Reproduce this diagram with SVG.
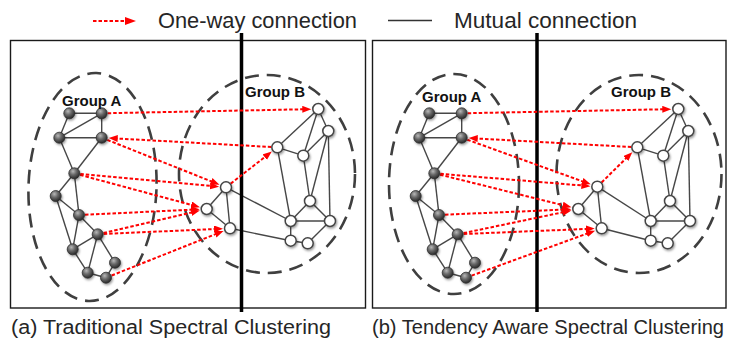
<svg xmlns="http://www.w3.org/2000/svg" width="729" height="339" viewBox="0 0 729 339">
  <style>
    .frame { fill: none; stroke: #1a1a1a; stroke-width: 1.4; }
    .divider { stroke: #000; stroke-width: 3.5; }
    .group { fill: none; stroke: #3f3f3f; stroke-width: 2.6; stroke-dasharray: 14 8; }
    .edge { stroke: #474747; stroke-width: 1.4; fill: none; }
    .oneway { stroke: #ff0000; stroke-width: 2; stroke-dasharray: 3.5 2; fill: none; marker-end: url(#head); }
    .dark { fill: url(#sphere); stroke: #2e2e2e; stroke-width: 0.8; filter: url(#shadow); }
    .light { fill: #fff; stroke: #444; stroke-width: 1.5; filter: url(#shadow); }
    .glabel { font-family: "Liberation Sans", Arial, sans-serif; font-weight: bold; font-size: 15px; fill: #111; }
    .legend { font-family: "Liberation Sans", Arial, sans-serif; font-size: 21.5px; fill: #262626; }
    .caption { font-family: "Liberation Sans", Arial, sans-serif; font-size: 20px; fill: #262626; }
  </style>
  <defs>
    <radialGradient id="sphere" cx="38%" cy="32%" r="70%">
      <stop offset="0" stop-color="#b8b8b8"/>
      <stop offset="0.45" stop-color="#6a6a6a"/>
      <stop offset="1" stop-color="#262626"/>
    </radialGradient>
    <filter id="shadow" x="-60%" y="-60%" width="220%" height="220%">
      <feDropShadow dx="1" dy="1.5" stdDeviation="1.2" flood-color="#000" flood-opacity="0.4"/>
    </filter>
    <marker id="head" markerUnits="userSpaceOnUse" markerWidth="10" markerHeight="8" refX="1" refY="3.5" orient="auto">
      <path d="M0,0 L9,3.5 L0,7 z" fill="#ff0000"/>
    </marker>
    <marker id="bighead" markerUnits="userSpaceOnUse" markerWidth="12" markerHeight="9" refX="1" refY="4" orient="auto">
      <path d="M0,0 L11,4 L0,8 z" fill="#ff0000"/>
    </marker>
  </defs>

  <!-- legend -->
  <g id="legend">
    <line x1="93" y1="21" x2="126" y2="21" stroke="#ff0000" stroke-width="2" stroke-dasharray="3.5 2" marker-end="url(#bighead)"/>
    <text class="legend" x="158" y="27.5" textLength="199" lengthAdjust="spacingAndGlyphs">One-way connection</text>
    <line x1="388" y1="20.5" x2="432" y2="20.5" stroke="#333" stroke-width="1.6"/>
    <text class="legend" x="454" y="27.5" textLength="183" lengthAdjust="spacingAndGlyphs">Mutual connection</text>
  </g>

  <!-- panel frames -->
  <rect class="frame" x="10.5" y="40.5" width="355" height="267.5"/>
  <rect class="frame" x="372.5" y="40.5" width="353.5" height="267.5"/>

  <!-- group outlines -->
  <ellipse class="group" cx="92.5" cy="187" rx="64" ry="114" transform="rotate(2 92.5 187)"/>
  <ellipse class="group" cx="267" cy="174" rx="88" ry="99"/>
  <ellipse class="group" cx="454" cy="184" rx="65" ry="110"/>
  <ellipse class="group" cx="639" cy="174" rx="82.5" ry="99"/>

  <!-- mutual connections -->
  <g id="connectors">
    <g id="mutual-a" class="edge">
      <line x1="69.3" y1="113.3" x2="101.7" y2="113.3"/>
      <line x1="69.3" y1="113.3" x2="59.3" y2="137.7"/>
      <line x1="59.3" y1="137.7" x2="101.7" y2="137.7"/>
      <line x1="59.3" y1="137.7" x2="101.7" y2="113.3"/>
      <line x1="101.7" y1="113.3" x2="101.7" y2="137.7"/>
      <line x1="59.3" y1="137.7" x2="74.3" y2="173.3"/>
      <line x1="101.7" y1="137.7" x2="74.3" y2="173.3"/>
      <line x1="74.3" y1="173.3" x2="55.7" y2="196"/>
      <line x1="74.3" y1="173.3" x2="79" y2="215"/>
      <line x1="55.7" y1="196" x2="79" y2="215"/>
      <line x1="79" y1="215" x2="97.7" y2="234.3"/>
      <line x1="55.7" y1="196" x2="72.7" y2="249.3"/>
      <line x1="79" y1="215" x2="72.7" y2="249.3"/>
      <line x1="97.7" y1="234.3" x2="72.7" y2="249.3"/>
      <line x1="97.7" y1="234.3" x2="87.7" y2="272.7"/>
      <line x1="97.7" y1="234.3" x2="115" y2="262.7"/>
      <line x1="72.7" y1="249.3" x2="87.7" y2="272.7"/>
      <line x1="87.7" y1="272.7" x2="106" y2="277.7"/>
      <line x1="115" y1="262.7" x2="106" y2="277.7"/>
      <line x1="318.3" y1="109" x2="277.3" y2="147.3"/>
      <line x1="318.3" y1="109" x2="303.3" y2="155.7"/>
      <line x1="318.3" y1="109" x2="328.3" y2="131"/>
      <line x1="328.3" y1="131" x2="303.3" y2="155.7"/>
      <line x1="277.3" y1="147.3" x2="303.3" y2="155.7"/>
      <line x1="303.3" y1="155.7" x2="310" y2="201"/>
      <line x1="328.3" y1="131" x2="310" y2="201"/>
      <line x1="328.3" y1="131" x2="330" y2="221"/>
      <line x1="277.3" y1="147.3" x2="290.7" y2="221"/>
      <line x1="310" y1="201" x2="290.7" y2="221"/>
      <line x1="310" y1="201" x2="330" y2="221"/>
      <line x1="290.7" y1="221" x2="330" y2="221"/>
      <line x1="290.7" y1="221" x2="290.7" y2="240.7"/>
      <line x1="290.7" y1="240.7" x2="307.7" y2="243.3"/>
      <line x1="307.7" y1="243.3" x2="330" y2="221"/>
      <line x1="226" y1="187.3" x2="206.7" y2="209"/>
      <line x1="226" y1="187.3" x2="230" y2="228.3"/>
      <line x1="206.7" y1="209" x2="230" y2="228.3"/>
      <line x1="226" y1="187.3" x2="290.7" y2="221"/>
      <line x1="230" y1="228.3" x2="290.7" y2="240.7"/>
    </g>
    <g id="mutual-b" class="edge">
      <line x1="429.3" y1="113.3" x2="461.7" y2="113.3"/>
      <line x1="429.3" y1="113.3" x2="419.3" y2="137.7"/>
      <line x1="419.3" y1="137.7" x2="461.7" y2="137.7"/>
      <line x1="419.3" y1="137.7" x2="461.7" y2="113.3"/>
      <line x1="461.7" y1="113.3" x2="461.7" y2="137.7"/>
      <line x1="419.3" y1="137.7" x2="434.3" y2="173.3"/>
      <line x1="461.7" y1="137.7" x2="434.3" y2="173.3"/>
      <line x1="434.3" y1="173.3" x2="415.7" y2="196"/>
      <line x1="434.3" y1="173.3" x2="439" y2="215"/>
      <line x1="415.7" y1="196" x2="439" y2="215"/>
      <line x1="439" y1="215" x2="457.7" y2="234.3"/>
      <line x1="415.7" y1="196" x2="432.7" y2="249.3"/>
      <line x1="439" y1="215" x2="432.7" y2="249.3"/>
      <line x1="457.7" y1="234.3" x2="432.7" y2="249.3"/>
      <line x1="457.7" y1="234.3" x2="447.7" y2="272.7"/>
      <line x1="457.7" y1="234.3" x2="475" y2="262.7"/>
      <line x1="432.7" y1="249.3" x2="447.7" y2="272.7"/>
      <line x1="447.7" y1="272.7" x2="466" y2="277.7"/>
      <line x1="475" y1="262.7" x2="466" y2="277.7"/>
      <line x1="678.3" y1="109" x2="637.3" y2="147.3"/>
      <line x1="678.3" y1="109" x2="663.3" y2="155.7"/>
      <line x1="678.3" y1="109" x2="688.3" y2="131"/>
      <line x1="688.3" y1="131" x2="663.3" y2="155.7"/>
      <line x1="637.3" y1="147.3" x2="663.3" y2="155.7"/>
      <line x1="663.3" y1="155.7" x2="670" y2="201"/>
      <line x1="688.3" y1="131" x2="670" y2="201"/>
      <line x1="688.3" y1="131" x2="690" y2="221"/>
      <line x1="637.3" y1="147.3" x2="650.7" y2="221"/>
      <line x1="670" y1="201" x2="650.7" y2="221"/>
      <line x1="670" y1="201" x2="690" y2="221"/>
      <line x1="650.7" y1="221" x2="690" y2="221"/>
      <line x1="650.7" y1="221" x2="650.7" y2="240.7"/>
      <line x1="650.7" y1="240.7" x2="667.7" y2="243.3"/>
      <line x1="667.7" y1="243.3" x2="690" y2="221"/>
      <line x1="597.3" y1="186.7" x2="578.3" y2="209"/>
      <line x1="597.3" y1="186.7" x2="601.7" y2="228.3"/>
      <line x1="578.3" y1="209" x2="601.7" y2="228.3"/>
      <line x1="597.3" y1="186.7" x2="650.7" y2="221"/>
      <line x1="601.7" y1="228.3" x2="650.7" y2="240.7"/>
    </g>
  </g>

  <!-- partition cuts -->
  <line class="divider" x1="241.5" y1="33" x2="241.5" y2="312"/>
  <line class="divider" x1="537" y1="33" x2="537" y2="312"/>

  <!-- one-way connections -->
  <g id="oneway-a" class="oneway">
    <line x1="107.7" y1="113.2" x2="303.3" y2="109.3"/>
    <line x1="271.3" y1="147" x2="116.7" y2="138.5"/>
    <line x1="107.3" y1="139.9" x2="212.1" y2="181.7"/>
    <line x1="80.3" y1="173.9" x2="211.1" y2="185.9"/>
    <line x1="80.1" y1="174.9" x2="192.2" y2="205.1"/>
    <line x1="85" y1="214.7" x2="191.7" y2="209.7"/>
    <line x1="103.5" y1="233" x2="192.1" y2="212.4"/>
    <line x1="103.7" y1="234" x2="215" y2="229"/>
    <line x1="111.6" y1="275.5" x2="216.1" y2="233.9"/>
    <line x1="230.7" y1="183.6" x2="265.5" y2="156.5"/>
  </g>
  <g id="oneway-b" class="oneway">
    <line x1="467.7" y1="113.2" x2="663.3" y2="109.3"/>
    <line x1="631.3" y1="147" x2="476.7" y2="138.5"/>
    <line x1="467.3" y1="139.7" x2="583.2" y2="181.6"/>
    <line x1="440.3" y1="173.8" x2="582.4" y2="185.5"/>
    <line x1="440.1" y1="174.7" x2="563.7" y2="205.4"/>
    <line x1="445" y1="214.7" x2="563.3" y2="209.6"/>
    <line x1="463.6" y1="233.1" x2="563.6" y2="212.1"/>
    <line x1="463.7" y1="234" x2="586.7" y2="228.9"/>
    <line x1="471.6" y1="275.6" x2="587.6" y2="233.4"/>
    <line x1="601.6" y1="182.5" x2="626.6" y2="157.8"/>
  </g>

  <!-- panel (a) nodes -->
  <g id="a-A1"><circle class="dark" cx="69.3" cy="113.3" r="5.5"/></g>
  <g id="a-A2"><circle class="dark" cx="101.7" cy="113.3" r="5.5"/></g>
  <g id="a-A3"><circle class="dark" cx="59.3" cy="137.7" r="5.5"/></g>
  <g id="a-A4"><circle class="dark" cx="101.7" cy="137.7" r="5.5"/></g>
  <g id="a-A5"><circle class="dark" cx="74.3" cy="173.3" r="5.5"/></g>
  <g id="a-A6"><circle class="dark" cx="55.7" cy="196" r="5.5"/></g>
  <g id="a-A7"><circle class="dark" cx="79" cy="215" r="5.5"/></g>
  <g id="a-A8"><circle class="dark" cx="97.7" cy="234.3" r="5.5"/></g>
  <g id="a-A9"><circle class="dark" cx="72.7" cy="249.3" r="5.5"/></g>
  <g id="a-A10"><circle class="dark" cx="115" cy="262.7" r="5.5"/></g>
  <g id="a-A11"><circle class="dark" cx="87.7" cy="272.7" r="5.5"/></g>
  <g id="a-A12"><circle class="dark" cx="106" cy="277.7" r="5.5"/></g>
  <g id="a-B1"><circle class="light" cx="318.3" cy="109" r="5.5"/></g>
  <g id="a-B2"><circle class="light" cx="328.3" cy="131" r="5.5"/></g>
  <g id="a-B3"><circle class="light" cx="277.3" cy="147.3" r="5.5"/></g>
  <g id="a-B4"><circle class="light" cx="303.3" cy="155.7" r="5.5"/></g>
  <g id="a-B5"><circle class="light" cx="310" cy="201" r="5.5"/></g>
  <g id="a-B6"><circle class="light" cx="290.7" cy="221" r="5.5"/></g>
  <g id="a-B7"><circle class="light" cx="330" cy="221" r="5.5"/></g>
  <g id="a-B8"><circle class="light" cx="290.7" cy="240.7" r="5.5"/></g>
  <g id="a-B9"><circle class="light" cx="307.7" cy="243.3" r="5.5"/></g>
  <g id="a-C1"><circle class="light" cx="226" cy="187.3" r="5.5"/></g>
  <g id="a-C2"><circle class="light" cx="206.7" cy="209" r="5.5"/></g>
  <g id="a-C3"><circle class="light" cx="230" cy="228.3" r="5.5"/></g>

  <!-- panel (b) nodes -->
  <g id="b-A1"><circle class="dark" cx="429.3" cy="113.3" r="5.5"/></g>
  <g id="b-A2"><circle class="dark" cx="461.7" cy="113.3" r="5.5"/></g>
  <g id="b-A3"><circle class="dark" cx="419.3" cy="137.7" r="5.5"/></g>
  <g id="b-A4"><circle class="dark" cx="461.7" cy="137.7" r="5.5"/></g>
  <g id="b-A5"><circle class="dark" cx="434.3" cy="173.3" r="5.5"/></g>
  <g id="b-A6"><circle class="dark" cx="415.7" cy="196" r="5.5"/></g>
  <g id="b-A7"><circle class="dark" cx="439" cy="215" r="5.5"/></g>
  <g id="b-A8"><circle class="dark" cx="457.7" cy="234.3" r="5.5"/></g>
  <g id="b-A9"><circle class="dark" cx="432.7" cy="249.3" r="5.5"/></g>
  <g id="b-A10"><circle class="dark" cx="475" cy="262.7" r="5.5"/></g>
  <g id="b-A11"><circle class="dark" cx="447.7" cy="272.7" r="5.5"/></g>
  <g id="b-A12"><circle class="dark" cx="466" cy="277.7" r="5.5"/></g>
  <g id="b-B1"><circle class="light" cx="678.3" cy="109" r="5.5"/></g>
  <g id="b-B2"><circle class="light" cx="688.3" cy="131" r="5.5"/></g>
  <g id="b-B3"><circle class="light" cx="637.3" cy="147.3" r="5.5"/></g>
  <g id="b-B4"><circle class="light" cx="663.3" cy="155.7" r="5.5"/></g>
  <g id="b-B5"><circle class="light" cx="670" cy="201" r="5.5"/></g>
  <g id="b-B6"><circle class="light" cx="650.7" cy="221" r="5.5"/></g>
  <g id="b-B7"><circle class="light" cx="690" cy="221" r="5.5"/></g>
  <g id="b-B8"><circle class="light" cx="650.7" cy="240.7" r="5.5"/></g>
  <g id="b-B9"><circle class="light" cx="667.7" cy="243.3" r="5.5"/></g>
  <g id="b-C1"><circle class="light" cx="597.3" cy="186.7" r="5.5"/></g>
  <g id="b-C2"><circle class="light" cx="578.3" cy="209" r="5.5"/></g>
  <g id="b-C3"><circle class="light" cx="601.7" cy="228.3" r="5.5"/></g>

  <!-- group labels -->
  <text class="glabel" x="62" y="106">Group A</text>
  <text class="glabel" x="245" y="97.3">Group B</text>
  <text class="glabel" x="422" y="102">Group A</text>
  <text class="glabel" x="611" y="97.3">Group B</text>

  <!-- captions -->
  <text class="caption" x="11" y="333.5" textLength="320" lengthAdjust="spacingAndGlyphs">(a) Traditional Spectral Clustering</text>
  <text class="caption" x="372" y="333.5" textLength="352" lengthAdjust="spacingAndGlyphs">(b) Tendency Aware Spectral Clustering</text>
</svg>
